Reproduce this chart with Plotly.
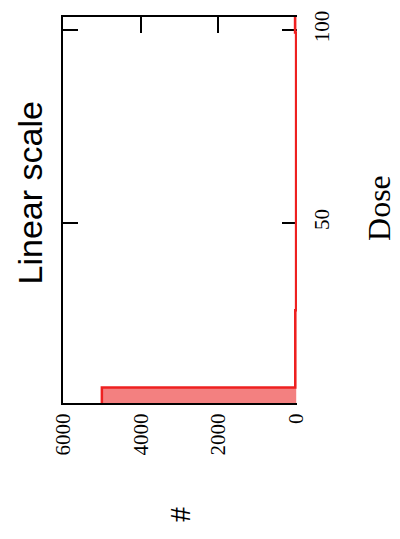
import plotly.graph_objects as go

# Dose histogram: 25 bins of width 4 starting at 3.3
bin_lo = 3.3
bin_width = 4.0
counts = [5000, 25, 25, 25, 25, 25, 3, 3, 3, 3, 3, 3, 3, 3, 3, 3, 3, 3, 3, 3, 3, 3, 3, 3, 30]

count_ticks = [0, 2000, 4000, 6000]
dose_ticks = [50, 100]

# Build the step outline of the histogram (counts run horizontally, dose vertically)
xs, ys = [], []
for i, c in enumerate(counts):
    lo = bin_lo + i * bin_width
    hi = lo + bin_width
    xs += [c, c]
    ys += [lo, hi]

dose_range = [bin_lo, bin_lo + len(counts) * bin_width]

fig = go.Figure()
fig.add_trace(go.Scatter(
    x=xs, y=ys, mode="lines",
    line=dict(color="#ee2020", width=2.5),
    fill="tozerox", fillcolor="#f38080",
    hoverinfo="skip", showlegend=False,
))
# empty trace carrying the left frame line
fig.add_trace(go.Scatter(x=[None], y=[None], yaxis="y2", showlegend=False))

serif = "Liberation Serif, Times New Roman, serif"

fig.update_layout(
    width=400, height=539,
    margin=dict(l=63, r=103, t=11, b=136),
    paper_bgcolor="white", plot_bgcolor="white",
    xaxis=dict(
        range=[6000, -20], tickvals=count_ticks,
        ticks="inside", ticklen=16, tickwidth=2, tickcolor="black",
        showline=True, linecolor="black", linewidth=2, mirror="ticks",
        showgrid=False, zeroline=False, tickangle=-90,
        tickfont=dict(family=serif, size=21, color="black"),
        layer="below traces",
    ),
    yaxis=dict(
        range=dose_range, side="right", tickvals=dose_ticks,
        ticks="inside", ticklen=15, tickwidth=2, tickcolor="black",
        showline=False, mirror="ticks",
        showgrid=False, zeroline=False, tickangle=-90,
        tickfont=dict(family=serif, size=21, color="black"),
        ticklabelstandoff=10,
        layer="below traces",
    ),
    yaxis2=dict(
        range=dose_range, overlaying="y", side="left",
        showline=True, linecolor="black", linewidth=2,
        showticklabels=False, ticks="", showgrid=False, zeroline=False,
    ),
    annotations=[
        dict(text="Linear scale", textangle=-90, xref="paper", yref="paper",
             x=-0.141, y=0.543, xanchor="center", yanchor="middle", showarrow=False,
             font=dict(family="Liberation Sans, Arial, sans-serif", size=34, color="black")),
        dict(text="Dose", textangle=-90, xref="paper", yref="paper",
             x=1.35, y=0.505, xanchor="center", yanchor="middle", showarrow=False,
             font=dict(family=serif, size=32, color="black")),
        dict(text="#", textangle=-90, xref="paper", yref="paper",
             x=0.5, y=-0.29, xanchor="center", yanchor="middle", showarrow=False,
             font=dict(family=serif, size=30, color="black")),
    ],
)

fig.write_html("out.html")
